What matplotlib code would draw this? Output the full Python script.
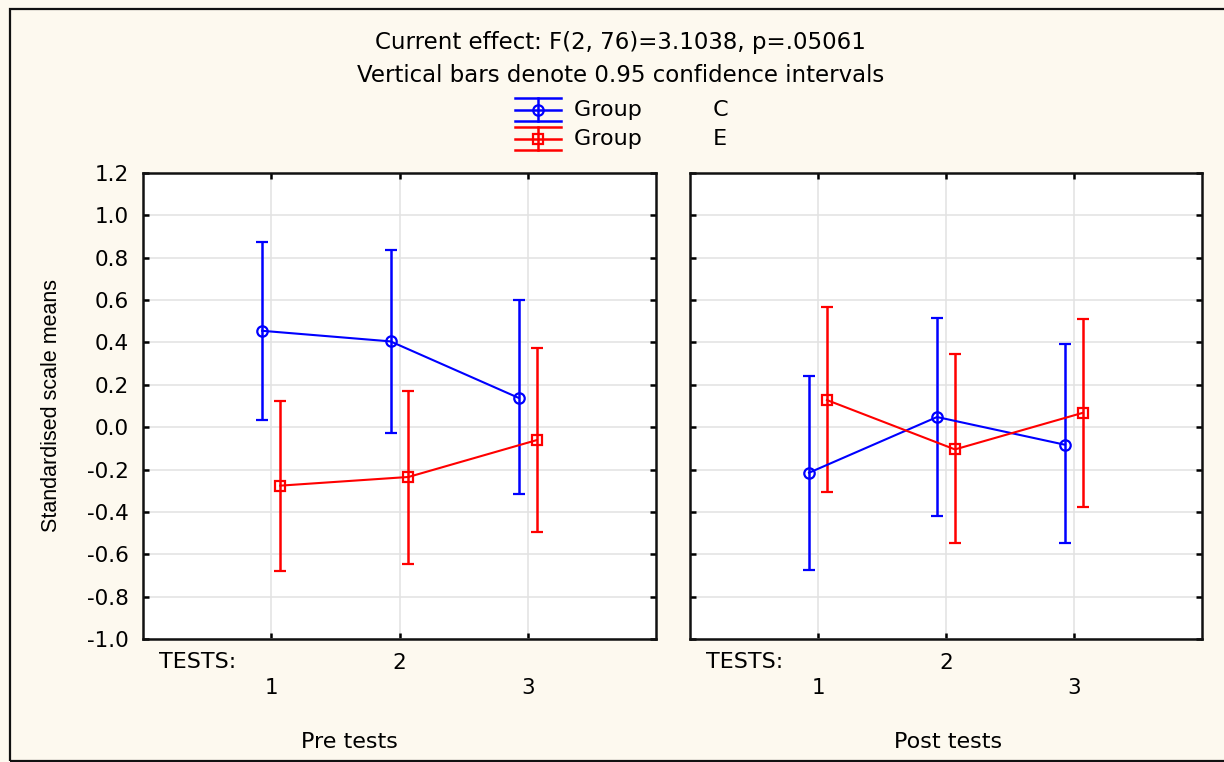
import matplotlib
matplotlib.use('Agg')
import matplotlib.pyplot as plt
import numpy as np
from matplotlib.lines import Line2D
from matplotlib.patches import Rectangle
from matplotlib.legend_handler import HandlerBase

# data (means and 0.95 CI limits)
tests = [1, 2, 3]
tickLabels = ['\n1', '2', '\n3']
panels = ['Pre tests', 'Post tests']

preC = [0.455, 0.405, 0.138]
preCLow = [0.035, -0.026, -0.316]
preCHigh = [0.876, 0.836, 0.600]
preE = [-0.276, -0.235, -0.061]
preELow = [-0.678, -0.646, -0.495]
preEHigh = [0.124, 0.171, 0.374]

postC = [-0.215, 0.048, -0.083]
postCLow = [-0.674, -0.419, -0.548]
postCHigh = [0.240, 0.514, 0.391]
postE = [0.128, -0.105, 0.068]
postELow = [-0.305, -0.545, -0.378]
postEHigh = [0.569, 0.344, 0.512]

yTicks = [-1.0, -0.8, -0.6, -0.4, -0.2, 0.0, 0.2, 0.4, 0.6, 0.8, 1.0, 1.2]

bgColor = '#fdf9ef'
plt.rcParams['font.family'] = ['DejaVu Sans']

fig = plt.figure(figsize=(12.24, 7.62), dpi=100, facecolor=bgColor)

# outer frame like the Statistica window
fig.patches.append(Rectangle((10 / 1224, 1 / 762), 1.2, 1 - 10 / 762, transform=fig.transFigure,
                             fill=False, edgecolor='#111111', linewidth=1.6, clip_on=False))

axL = fig.add_axes([143 / 1224, 123 / 762, 513 / 1224, 466 / 762])
axR = fig.add_axes([690 / 1224, 123 / 762, 512 / 1224, 466 / 762])

x = np.array(tests, dtype=float)
off = 0.07

def drawGroup(ax, xs, mean, low, high, color, marker, ms):
    mean = np.array(mean)
    err = [mean - np.array(low), np.array(high) - mean]
    ax.errorbar(xs, mean, yerr=err, color=color, lw=1.5, elinewidth=1.8, capsize=4, capthick=1.8,
                marker=marker, ms=ms, mfc='none', mec=color, mew=1.6, zorder=3)

drawGroup(axL, x - off, preC, preCLow, preCHigh, '#0000ff', 'o', 7.5)
drawGroup(axL, x + off, preE, preELow, preEHigh, '#ff0000', 's', 7)
drawGroup(axR, x - off, postC, postCLow, postCHigh, '#0000ff', 'o', 7.5)
drawGroup(axR, x + off, postE, postELow, postEHigh, '#ff0000', 's', 7)

for ax, name, nameX in [(axL, panels[0], 0.403), (axR, panels[1], 0.504)]:
    ax.set_facecolor('white')
    ax.set_xlim(0, 4)
    ax.set_ylim(-1.0, 1.2)
    ax.set_xticks(tests)
    ax.set_xticklabels(tickLabels, fontsize=15.5, linespacing=1.35)
    ax.set_yticks(yTicks)
    ax.grid(True, color='#e2e2e2', lw=1.1, zorder=0)
    ax.set_axisbelow(True)
    for s in ax.spines.values():
        s.set_linewidth(1.8)
        s.set_color('#111111')
    ax.tick_params(direction='in', length=4, width=1.8, top=True, right=True, pad=10, labelsize=15.5)
    ax.text(0.032, -0.049, 'TESTS:', transform=ax.transAxes, ha='left', va='center', fontsize=16)
    ax.text(nameX, -0.221, name, transform=ax.transAxes, ha='center', va='center', fontsize=16)

axL.set_yticklabels(['%.1f' % v for v in yTicks])
axR.set_yticklabels([])

fig.text(52 / 1224, 1 - 406 / 762, 'Standardised scale means', rotation=90, ha='center', va='center',
         fontsize=15.5, family=['Liberation Sans Narrow', 'Liberation Sans'])

fig.text(620 / 1224, 1 - 43 / 762, 'Current effect: F(2, 76)=3.1038, p=.05061',
         ha='center', va='center', fontsize=16.5)
fig.text(621 / 1224, 1 - 75 / 762, 'Vertical bars denote 0.95 confidence intervals',
         ha='center', va='center', fontsize=16.5)

# legend handle: line with full-width caps (Statistica style)
class HandlerLadder(HandlerBase):
    def create_artists(self, legend, orig_handle, xdescent, ydescent, width, height, fontsize, trans):
        c = orig_handle.get_color()
        yc = (height - ydescent) / 2.0 - 1.0
        h = 8.5
        arts = []
        for yy in (yc - h, yc, yc + h):
            arts.append(Line2D([-xdescent, width - xdescent], [yy, yy], color=c, lw=1.8, transform=trans))
        xm = (width - xdescent) / 2.0
        arts.append(Line2D([xm, xm], [yc - h, yc + h], color=c, lw=1.8, transform=trans))
        arts.append(Line2D([xm], [yc], marker=orig_handle.get_marker(), ms=orig_handle.get_markersize(),
                           mfc='none', mec=c, mew=1.6, ls='none', transform=trans))
        return arts

hC = Line2D([], [], color='#0000ff', marker='o', ms=7.5)
hE = Line2D([], [], color='#ff0000', marker='s', ms=6.5)
fig.legend([hC, hE], ['Group          C', 'Group          E'], handler_map={Line2D: HandlerLadder()},
           loc='center', bbox_to_anchor=(622 / 1224, 1 - 124.5 / 762), frameon=False, fontsize=16,
           handlelength=2.07, handletextpad=0.58, labelspacing=0.4, borderpad=0)

fig.savefig('out.png', dpi=100, facecolor=bgColor)
